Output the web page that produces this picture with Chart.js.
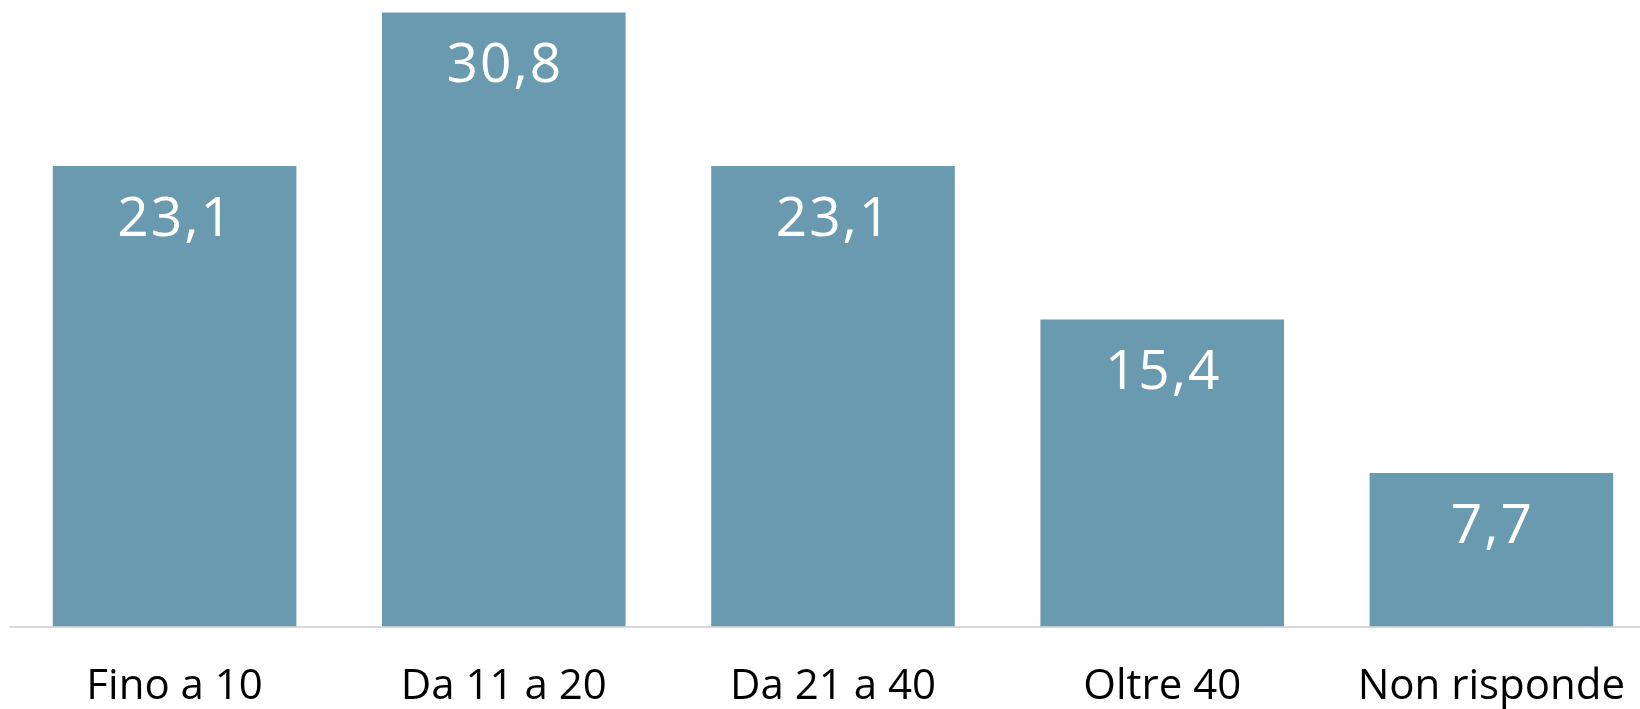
<!DOCTYPE html>
<html>
<head>
<meta charset="utf-8">
<script src="https://cdn.jsdelivr.net/npm/chart.js@4/dist/chart.umd.min.js"></script>
<style>
  html, body { margin: 0; padding: 0; background: #fff; overflow: hidden; }
  #wrap { width: 1656px; height: 709px; }
</style>
</head>
<body>
<div id="wrap"><canvas id="myChart"></canvas></div>
<script>
// categorie e percentuali
const categories = ['Fino a 10', 'Da 11 a 20', 'Da 21 a 40', 'Oltre 40', 'Non risponde'];
const values = [23.1, 30.8, 23.1, 15.4, 7.7];

// etichette dentro le barre, formato con virgola
const barLabels = {
    id: 'barLabels',
    afterDatasetsDraw(chart) {
        const c = chart.ctx;
        const meta = chart.getDatasetMeta(0);
        c.save();
        c.fillStyle = '#ffffff';
        c.font = '55px "Open Sans"';
        c.letterSpacing = '2px';
        c.textAlign = 'center';
        c.textBaseline = 'middle';
        meta.data.forEach((bar, i) => {
            const txt = values[i].toFixed(1).replace('.', ',');
            c.fillText(txt, bar.x + 1, bar.y + 54);
        });
        c.restore();
    }
};

const ctx = document.getElementById('myChart');

new Chart(ctx, {
    type: 'bar',
    data: {
        labels: categories,
        datasets: [{
            data: values,
            backgroundColor: '#6a9aaf',
            borderWidth: 0,
            categoryPercentage: 1,
            barPercentage: 0.74
        }]
    },
    options: {
        responsive: true,
        maintainAspectRatio: false,
        animation: false,
        layout: { padding: { left: 10, right: 0, top: 0, bottom: 0 } },
        plugins: {
            legend: { display: false },
            tooltip: { enabled: false }
        },
        scales: {
            y: {
                display: false,
                min: 0,
                max: 31.43
            },
            x: {
                grid: { display: false, drawTicks: false },
                border: { display: true, color: '#d9d9d9', width: 2 },
                ticks: {
                    color: '#000000',
                    padding: 4,
                    font: { family: 'Open Sans', size: 42, lineHeight: 2.714 }
                },
                afterFit(scale) { scale.height = 82.5; }
            }
        }
    },
    plugins: [barLabels]
});
</script>
</body>
</html>
